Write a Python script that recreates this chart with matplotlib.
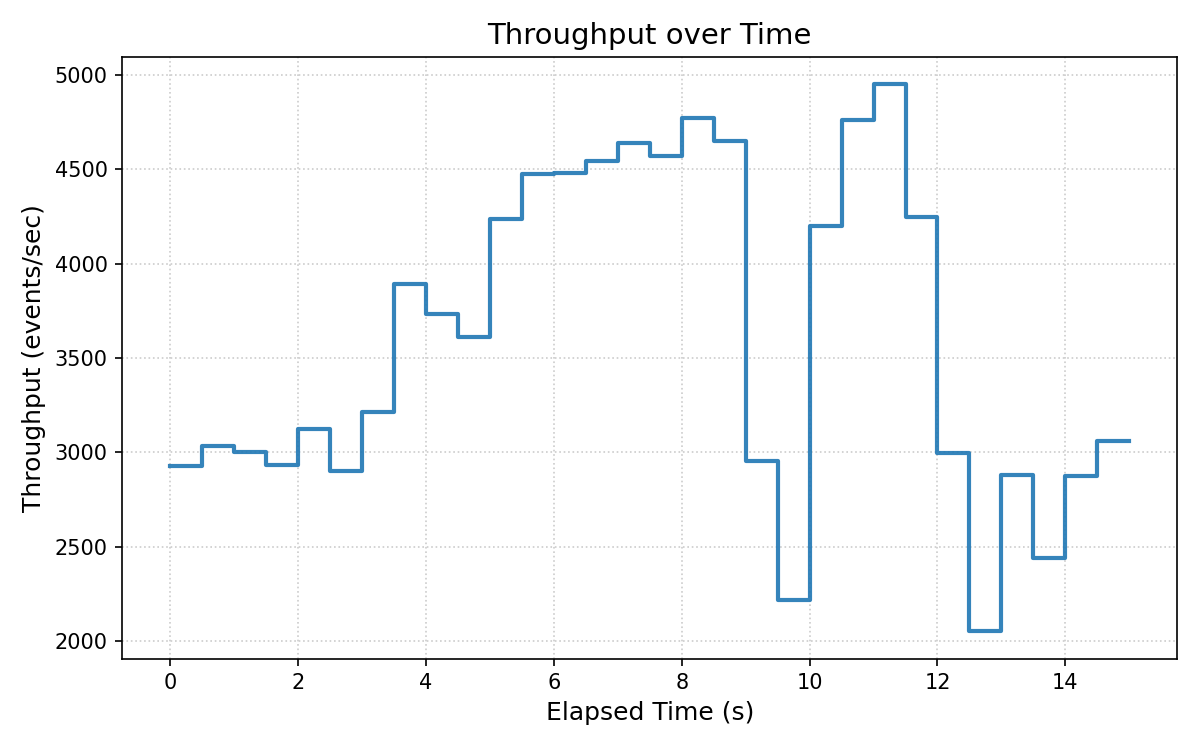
import numpy as np
import matplotlib
matplotlib.use("Agg")
import matplotlib.pyplot as plt

# elapsed time (s), sampled every 0.5 s
elapsed = np.arange(0, 15.5, 0.5)

# throughput (events/sec), last value repeats to close the step
throughput = [2926, 3032, 3000, 2933, 3122, 2899, 3213, 3894, 3734, 3612,
              4234, 4472, 4479, 4543, 4638, 4569, 4771, 4650, 2955, 2220,
              4197, 4758, 4949, 4246, 2994, 2053, 2880, 2443, 2874, 3059,
              3059]

fig, ax = plt.subplots(figsize=(8, 5), dpi=150)
fig.subplots_adjust(left=0.102, right=0.981, top=0.924, bottom=0.122)

ax.step(elapsed, throughput, where="post", color="#1f77b4", alpha=0.9, lw=2)

ax.set_title("Throughput over Time", fontsize=14)
ax.set_xlabel("Elapsed Time (s)", fontsize=12)
ax.set_ylabel("Throughput (events/sec)", fontsize=12)
ax.grid(True, linestyle=":", color="#cccccc", linewidth=0.8)

fig.savefig("out.png", dpi=150)
